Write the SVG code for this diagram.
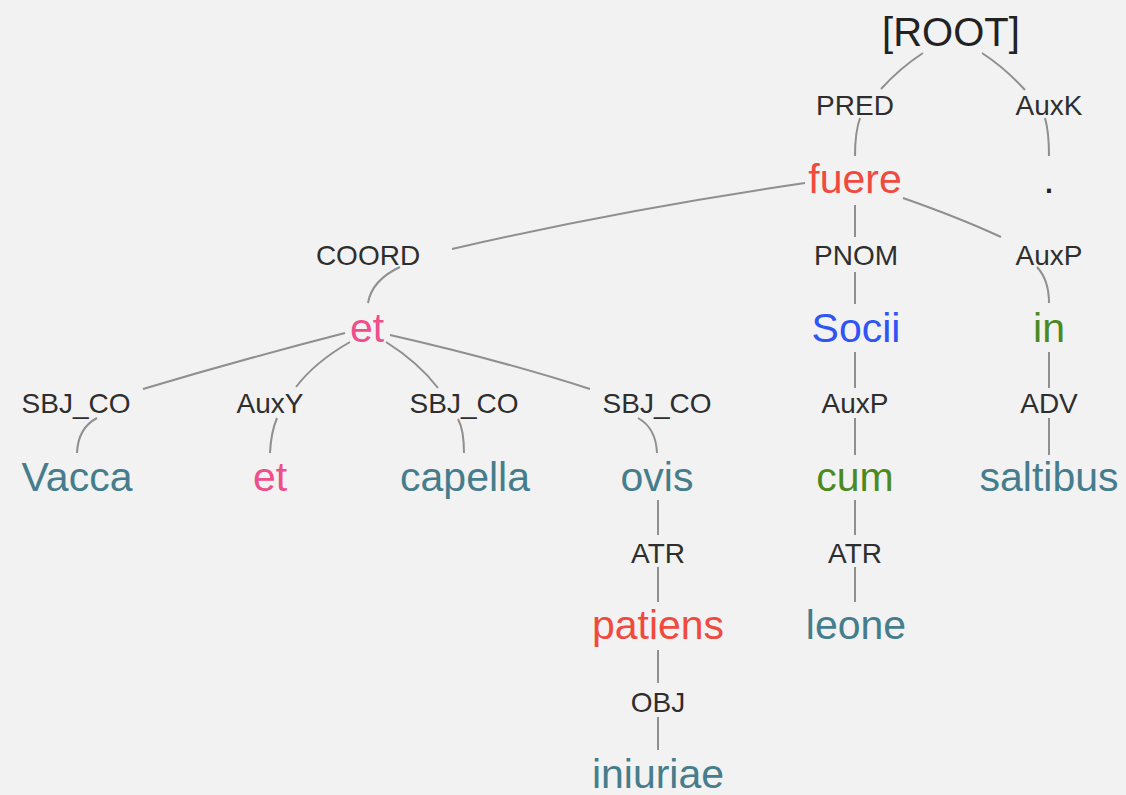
<svg xmlns="http://www.w3.org/2000/svg" width="1126" height="795" viewBox="0 0 1126 795">
<style>
.w{font-family:"Liberation Sans",Arial,sans-serif;font-size:41px;text-anchor:middle}
.l{font-family:"Liberation Sans",Arial,sans-serif;font-size:28px;text-anchor:middle;fill:#2e2e2e}
.teal{fill:#467d8c}.pink{fill:#ee4f8c}.red{fill:#f04a3f}.blue{fill:#2f55f5}.green{fill:#4b8a1f}.dark{fill:#222}
#links path{fill:none;stroke:#8f8f8f;stroke-width:2}
</style>
<rect width="1126" height="795" fill="#f2f2f2"/>
<g id="links">
<path d="M923,53 Q900,68 881,89"/>
<path d="M860,118 Q855,132 855,156"/>
<path d="M982,53 Q1005,68 1025,90"/>
<path d="M1045,118 Q1049,132 1049,156"/>
<path d="M805,183 Q620,210 452,249"/>
<path d="M903,198 Q960,218 1001,237"/>
<path d="M855,205 L855,237"/>
<path d="M855,272 L855,304"/>
<path d="M1037,267 Q1049,280 1049,303"/>
<path d="M400,267 Q372,280 368,303"/>
<path d="M345,333 Q240,360 143,389"/>
<path d="M350,342 Q315,362 296,387"/>
<path d="M386,342 Q418,362 438,388"/>
<path d="M390,335 Q500,360 590,389"/>
<path d="M97,418 Q78,428 77,453"/>
<path d="M277,418 Q271,432 270,453"/>
<path d="M458,419 Q464,430 464,453"/>
<path d="M638,418 Q656,428 657,453"/>
<path d="M658,500 L658,535"/>
<path d="M658,567 L658,602"/>
<path d="M658,650 L658,683"/>
<path d="M658,717 L658,750"/>
<path d="M855,352 L855,388"/>
<path d="M855,418 L855,455"/>
<path d="M855,500 L855,535"/>
<path d="M855,567 L855,602"/>
<path d="M1049,352 L1049,388"/>
<path d="M1049,418 L1049,455"/>
</g>
<g id="n-root"><text class="w dark" x="951" y="46" style="font-size:40px">[ROOT]</text></g>
<g id="n-fuere"><text class="l" x="855" y="115">PRED</text><text class="w red" x="855" y="193">fuere</text></g>
<g id="n-dot"><text class="l" x="1049" y="115">AuxK</text><text class="w dark" x="1049" y="193">.</text></g>
<g id="n-et"><text class="l" x="368" y="265">COORD</text><text class="w pink" x="367" y="342">et</text></g>
<g id="n-socii"><text class="l" x="856" y="265">PNOM</text><text class="w blue" x="856" y="342">Socii</text></g>
<g id="n-in"><text class="l" x="1049" y="265">AuxP</text><text class="w green" x="1049" y="342">in</text></g>
<g id="n-vacca"><text class="l" x="76" y="413">SBJ_CO</text><text class="w teal" x="77" y="491">Vacca</text></g>
<g id="n-et2"><text class="l" x="270" y="413">AuxY</text><text class="w pink" x="270" y="491">et</text></g>
<g id="n-capella"><text class="l" x="464" y="413">SBJ_CO</text><text class="w teal" x="465" y="491">capella</text></g>
<g id="n-ovis"><text class="l" x="657" y="413">SBJ_CO</text><text class="w teal" x="657" y="491">ovis</text></g>
<g id="n-cum"><text class="l" x="855" y="413">AuxP</text><text class="w green" x="855" y="491">cum</text></g>
<g id="n-saltibus"><text class="l" x="1049" y="413">ADV</text><text class="w teal" x="1049" y="491">saltibus</text></g>
<g id="n-patiens"><text class="l" x="658" y="563">ATR</text><text class="w red" x="658" y="639">patiens</text></g>
<g id="n-leone"><text class="l" x="855" y="563">ATR</text><text class="w teal" x="856" y="639">leone</text></g>
<g id="n-iniuriae"><text class="l" x="658" y="712">OBJ</text><text class="w teal" x="658" y="788">iniuriae</text></g>
</svg>
